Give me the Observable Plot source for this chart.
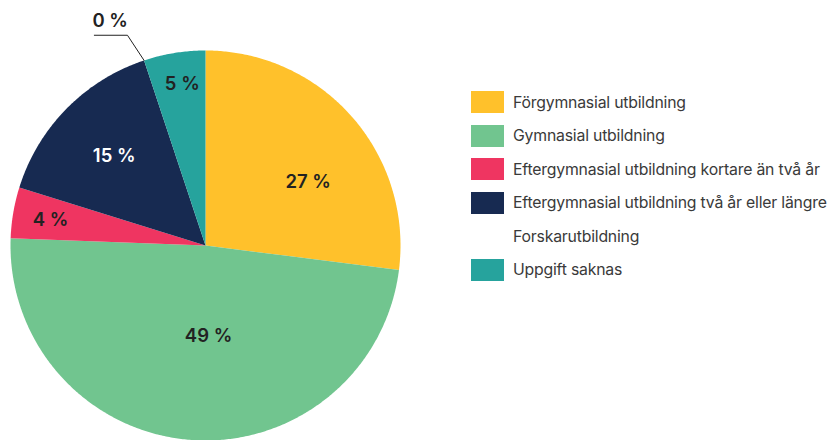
<!DOCTYPE html>
<html>
<head>
<meta charset="utf-8">
<script src="https://cdn.jsdelivr.net/npm/d3@7"></script>
<script src="https://cdn.jsdelivr.net/npm/@observablehq/plot@0.6"></script>
<style>
  html, body { margin: 0; padding: 0; background: #fff; }
  #wrap { position: relative; width: 829px; height: 440px; overflow: hidden; font-family: Inter, "Noto Sans", sans-serif; }
  #chart { position: absolute; left: 0; top: 0; }
  #legend { position: absolute; left: 471px; top: 91px; }
  .row { display: flex; align-items: center; height: 22px; margin-bottom: 11.5px; }
  .sw { width: 33px; height: 22px; margin-right: 9px; flex: none; }
  .lab { font-size: 15.8px; color: #3a3a3a; letter-spacing: -0.2px; white-space: nowrap; }
</style>
</head>
<body>
<div id="wrap"><div id="chart"></div><div id="legend"></div></div>
<script>
// ---- data ----
const categories = [
  "Förgymnasial utbildning",
  "Gymnasial utbildning",
  "Eftergymnasial utbildning kortare än två år",
  "Eftergymnasial utbildning två år eller längre",
  "Forskarutbildning",
  "Uppgift saknas"
];
const shares = [27.0, 48.6, 4.2, 15.1, 0.0, 5.1];
const labels = ["27 %", "49 %", "4 %", "15 %", "0 %", "5 %"];
const colors = ["#FFC12B", "#71C58F", "#EF3561", "#172A51", "#FFFFFF", "#26A39D"];

// ---- label layout (radius fraction, angular nudge in degrees) ----
const labelRadius = [0.62, 0.465, 0.805, 0.656, 1.15, 0.836];
const labelNudge = [9.5, -6.6, -0.4, 0, -2, 1];
const labelColor = ["#222", "#222", "#222", "#fff", "#222", "#222"];

const pie = d3.pie().sort(null).value(d => d)(shares);

// slice polygons
const slicePts = [];
pie.forEach((p, i) => {
  if (p.endAngle - p.startAngle <= 0) return;
  slicePts.push({cat: categories[i], x: 0, y: 0});
  const n = Math.max(2, Math.ceil((p.endAngle - p.startAngle) / (Math.PI / 360)));
  for (let k = 0; k <= n; k++) {
    const a = p.startAngle + (p.endAngle - p.startAngle) * k / n;
    slicePts.push({cat: categories[i], x: Math.sin(a), y: Math.cos(a)});
  }
  slicePts.push({cat: categories[i], x: 0, y: 0});
});

// labels
const labelData = pie.map((p, i) => {
  const a = (p.startAngle + p.endAngle) / 2 + labelNudge[i] * Math.PI / 180;
  return {text: labels[i], x: labelRadius[i] * Math.sin(a), y: labelRadius[i] * Math.cos(a), color: labelColor[i], zero: shares[i] === 0, angle: (p.startAngle + p.endAngle) / 2};
});
const inside = labelData.filter(d => !d.zero);
const zeroLab = labelData.filter(d => d.zero);

// leader line for zero slice
const leader = [];
zeroLab.forEach(d => {
  leader.push({x: Math.sin(d.angle), y: Math.cos(d.angle)});
  leader.push({x: d.x, y: d.y});
  leader.push({x: d.x - 0.17, y: d.y});
});
const zeroText = zeroLab.map(d => ({text: d.text, x: d.x - 0.18, y: d.y}));

const plot = Plot.plot({
  width: 440,
  height: 440,
  marginLeft: 10,
  marginRight: 40,
  marginTop: 50,
  marginBottom: 0,
  x: {domain: [-1, 1], axis: null},
  y: {domain: [-1, 1], axis: null},
  color: {type: "ordinal", domain: categories, range: colors},
  style: {overflow: "visible", background: "transparent"},
  marks: [
    Plot.line(slicePts, {x: "x", y: "y", z: "cat", fill: "cat", stroke: null, curve: "linear"}),
    Plot.line(leader, {x: "x", y: "y", stroke: "#222", strokeWidth: 1}),
    Plot.text(inside, {x: "x", y: "y", text: "text", fill: "color", fontSize: 18.5, fontWeight: 600, fontFamily: "Inter, sans-serif"}),
    Plot.text(zeroText, {x: "x", y: "y", text: "text", fill: "#222", fontSize: 18.5, fontWeight: 600, fontFamily: "Inter, sans-serif", textAnchor: "start", dy: -14})
  ]
});
document.getElementById("chart").appendChild(plot);

// legend
const leg = document.getElementById("legend");
categories.forEach((c, i) => {
  const row = document.createElement("div");
  row.className = "row";
  const sw = document.createElement("div");
  sw.className = "sw";
  sw.style.background = colors[i];
  const lab = document.createElement("div");
  lab.className = "lab";
  lab.textContent = c;
  row.appendChild(sw);
  row.appendChild(lab);
  leg.appendChild(row);
});
</script>
</body>
</html>
